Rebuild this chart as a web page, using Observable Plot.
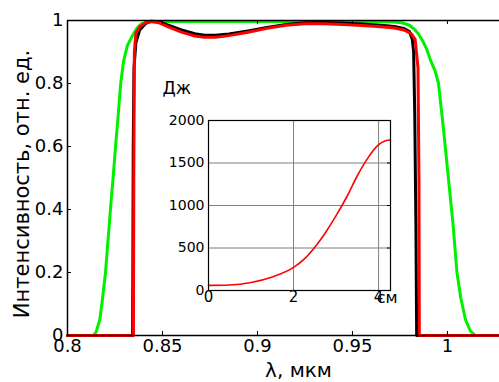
<!DOCTYPE html>
<html>
<head>
<meta charset="utf-8">
<script src="https://cdn.jsdelivr.net/npm/d3@7"></script>
<script src="https://cdn.jsdelivr.net/npm/@observablehq/plot@0.6"></script>
<style>
  html, body { margin: 0; padding: 0; background: white; }
  #wrap { position: relative; width: 499px; height: 382px; overflow: hidden; }
  #inset { position: absolute; left: 150px; top: 60px; }
</style>
</head>
<body>
<div id="wrap"><div id="main"></div><div id="inset"></div></div>
<script>
// ---- data ----
const xTicks = [0.8, 0.85, 0.9, 0.95, 1];
const yTicks = [0, 0.2, 0.4, 0.6, 0.8, 1];

const greenX = [0.8, 0.8135, 0.815, 0.817, 0.8185, 0.82, 0.8213, 0.8226, 0.824, 0.8253, 0.8267, 0.828, 0.8295, 0.8315, 0.834, 0.8365, 0.839, 0.843, 0.85, 0.9, 0.95, 0.97, 0.976, 0.98, 0.983, 0.985, 0.987, 0.989, 0.991, 0.9935, 0.9953, 0.998, 1.0005, 1.003, 1.005, 1.007, 1.0095, 1.012, 1.0147, 1.0274];
const greenY = [0, 0, 0.01, 0.05, 0.12, 0.2, 0.3, 0.4, 0.5, 0.6, 0.7, 0.8, 0.87, 0.92, 0.95, 0.975, 0.99, 0.996, 0.997, 0.997, 0.997, 0.996, 0.993, 0.985, 0.97, 0.955, 0.935, 0.91, 0.875, 0.84, 0.8, 0.65, 0.5, 0.35, 0.2, 0.12, 0.05, 0.015, 0, 0];

const blackX = [0.8, 0.8343, 0.8346, 0.835, 0.836, 0.838, 0.841, 0.844, 0.848, 0.853, 0.86, 0.867, 0.872, 0.878, 0.885, 0.895, 0.905, 0.915, 0.925, 0.935, 0.945, 0.955, 0.965, 0.972, 0.977, 0.98, 0.9815, 0.9822, 0.9828, 0.9834, 0.9838, 1.0274];
const blackY = [0, 0, 0.6, 0.85, 0.93, 0.97, 0.99, 0.998, 0.996, 0.985, 0.97, 0.958, 0.953, 0.953, 0.957, 0.967, 0.978, 0.987, 0.993, 0.994, 0.992, 0.989, 0.985, 0.981, 0.975, 0.965, 0.94, 0.9, 0.7, 0.35, 0, 0];

const redX = [0.8, 0.8347, 0.8349, 0.8352, 0.836, 0.838, 0.841, 0.844, 0.848, 0.853, 0.86, 0.867, 0.872, 0.878, 0.885, 0.895, 0.905, 0.915, 0.925, 0.935, 0.945, 0.955, 0.965, 0.972, 0.977, 0.981, 0.983, 0.9845, 0.985, 0.9852, 1.0274];
const redY = [0, 0, 0.5, 0.9, 0.96, 0.98, 0.993, 0.997, 0.993, 0.98, 0.963, 0.951, 0.947, 0.947, 0.952, 0.963, 0.975, 0.985, 0.99, 0.99, 0.987, 0.984, 0.98, 0.976, 0.97, 0.958, 0.94, 0.85, 0.5, 0, 0];

const insetXTicks = [0, 2, 4];
const insetYTicks = [0, 500, 1000, 1500, 2000];
const insetX = [0, 0.5, 1, 1.5, 2, 2.25, 2.5, 2.75, 3, 3.25, 3.5, 3.75, 4, 4.15, 4.28];
const insetY = [60, 65, 95, 160, 272, 370, 510, 680, 880, 1100, 1350, 1560, 1715, 1760, 1770];

// ---- main chart ----
const W = 499, H = 382, mL = 67, mT = 20, mR = 0, mB = 47;
const fW = W - mL - mR, fH = H - mT - mB;
const font = "'DejaVu Sans', Verdana, sans-serif";

const toRows = (xs, ys) => xs.map((x, i) => ({x, y: ys[i]}));

const main = Plot.plot({
  width: W, height: H,
  marginLeft: mL, marginTop: mT, marginRight: mR, marginBottom: mB,
  style: {fontFamily: font, background: "transparent", color: "#000", overflow: "visible"},
  x: {domain: [0.8, 1.0274]},
  y: {domain: [0, 1]},
  marks: [
    Plot.line(toRows(greenX, greenY), {x: "x", y: "y", stroke: "#00f000", strokeWidth: 3, curve: "linear", strokeLinejoin: "round"}),
    Plot.line(toRows(blackX, blackY), {x: "x", y: "y", stroke: "#000", strokeWidth: 3, curve: "linear", strokeLinejoin: "round"}),
    Plot.line(toRows(redX, redY), {x: "x", y: "y", stroke: "#ff0000", strokeWidth: 3, curve: "linear", strokeLinejoin: "round"}),
    Plot.ruleX([0.8], {stroke: "#000", strokeWidth: 1.5}),
    Plot.ruleY([0, 1], {stroke: "#000", strokeWidth: 1.5}),
    Plot.ruleX(xTicks, {insetTop: fH - 4, stroke: "#000"}),
    Plot.ruleX(xTicks, {insetBottom: fH - 4, stroke: "#000"}),
    Plot.ruleY(yTicks, {insetRight: fW - 4, stroke: "#000"}),
    Plot.axisX(xTicks, {tickSize: 0, tickPadding: 4, fontSize: 18, label: null, tickFormat: d => String(d)}),
    Plot.axisY(yTicks, {tickSize: 0, tickPadding: 4, fontSize: 18, label: null, tickFormat: d => String(d)}),
    Plot.text(["Интенсивность, отн. ед."], {frameAnchor: "left", textAnchor: "middle", lineAnchor: "middle", rotate: -90, dx: -45, dy: 6, fontSize: 21, fill: "#000"}),
    Plot.text(["λ, мкм"], {frameAnchor: "bottom", textAnchor: "middle", lineAnchor: "middle", dx: 15, dy: 35, fontSize: 20, fill: "#000"})
  ]
});
document.getElementById("main").appendChild(main);

// ---- inset ----
const iW = 250, iH = 260, iL = 58, iT = 60, iR = 10, iB = 30;
const ifW = iW - iL - iR;
const inset = Plot.plot({
  width: iW, height: iH,
  marginLeft: iL, marginTop: iT, marginRight: iR, marginBottom: iB,
  style: {fontFamily: font, background: "transparent", color: "#000", overflow: "visible"},
  x: {domain: [0, 4.28]},
  y: {domain: [0, 2000]},
  marks: [
    Plot.gridX([2, 4], {stroke: "#808080", strokeOpacity: 1, strokeWidth: 1}),
    Plot.gridY([500, 1000, 1500], {stroke: "#808080", strokeOpacity: 1, strokeWidth: 1}),
    Plot.ruleY(insetYTicks, {insetLeft: ifW - 3, stroke: "#000"}),
    Plot.line(toRows(insetX, insetY), {x: "x", y: "y", stroke: "#ff0000", strokeWidth: 1.6, curve: "monotone-x"}),
    Plot.frame({stroke: "#000", strokeWidth: 1.2}),
    Plot.axisX(insetXTicks, {tickSize: 0, tickPadding: 1, fontSize: 15, label: null}),
    Plot.axisY(insetYTicks, {tickSize: 0, tickPadding: 4, fontSize: 14, label: null, tickFormat: d => String(d)}),
    Plot.text(["Дж"], {frameAnchor: "top-left", textAnchor: "start", lineAnchor: "middle", dx: -46, dy: -32, fontSize: 17, fill: "#000"}),
    Plot.text(["см"], {frameAnchor: "bottom-right", textAnchor: "end", lineAnchor: "top", dx: 7, dy: 1, fontSize: 16, fill: "#000"})
  ]
});
document.getElementById("inset").appendChild(inset);
</script>
</body>
</html>
